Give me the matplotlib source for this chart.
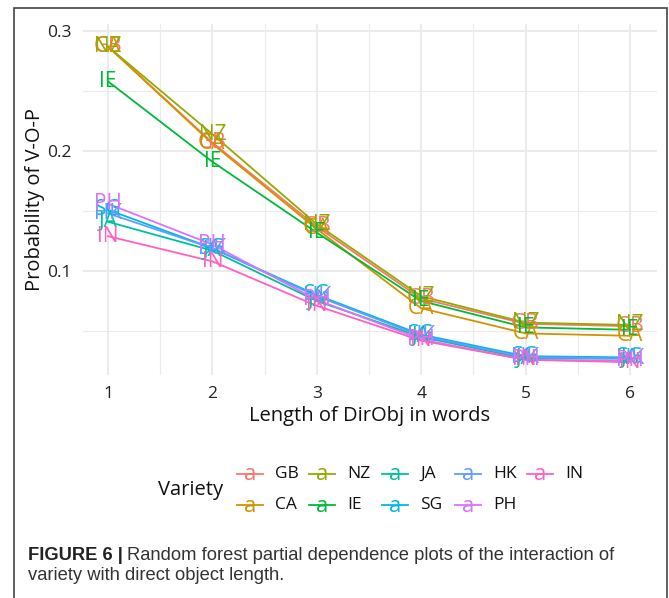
import numpy as np
import matplotlib
matplotlib.use('Agg')
import matplotlib.pyplot as plt
from matplotlib.lines import Line2D
from matplotlib.patches import Rectangle

plt.rcParams['font.family'] = ['Open Sans', 'DejaVu Sans']

# partial dependence values
lengths = [1, 2, 3, 4, 5, 6]
varieties = ['GB', 'CA', 'NZ', 'IE', 'JA', 'SG', 'HK', 'PH', 'IN']
colors = ['#F8766D', '#D39200', '#93AA00', '#00BA38', '#00C19F',
          '#00B9E3', '#619CFF', '#DB72FB', '#FF61C3']
prob = {
    'GB': [0.287, 0.207, 0.137, 0.077, 0.056, 0.054],
    'CA': [0.287, 0.206, 0.135, 0.069, 0.048, 0.046],
    'NZ': [0.287, 0.214, 0.139, 0.079, 0.057, 0.055],
    'IE': [0.258, 0.191, 0.132, 0.075, 0.053, 0.051],
    'JA': [0.141, 0.117, 0.075, 0.045, 0.027, 0.027],
    'SG': [0.151, 0.119, 0.080, 0.047, 0.029, 0.028],
    'HK': [0.148, 0.119, 0.079, 0.046, 0.028, 0.027],
    'PH': [0.156, 0.122, 0.076, 0.043, 0.026, 0.025],
    'IN': [0.129, 0.108, 0.071, 0.042, 0.026, 0.024],
}
y_ticks = [0.1, 0.2, 0.3]

W, H = 669, 598
fig = plt.figure(figsize=(W / 100, H / 100), dpi=100)
ax = fig.add_axes([83 / W, 1 - 375 / H, (657 - 83) / W, (375 - 24) / H])

grid = '#EBEBEB'
for x in np.arange(1.5, 6.0, 1.0):
    ax.axvline(x, color=grid, lw=0.8, zorder=0)
for y in [0.05, 0.15, 0.25]:
    ax.axhline(y, color=grid, lw=0.8, zorder=0)
for x in lengths:
    ax.axvline(x, color=grid, lw=1.5, zorder=0)
for y in y_ticks:
    ax.axhline(y, color=grid, lw=1.5, zorder=0)

for v, c in zip(varieties, colors):
    ax.plot(lengths, prob[v], color=c, lw=1.3, zorder=2)
for v, c in zip(varieties, colors):
    for x, y in zip(lengths, prob[v]):
        ax.text(x, y, v, color=c, fontsize=15, ha='center', va='center', zorder=3)

ax.set_xlim(0.76, 6.26)
ax.set_ylim(0.3 - 344 / 1200, 0.3 + 7 / 1200)
ax.set_xticks(lengths)
ax.set_yticks(y_ticks)
ax.set_yticklabels(['0.1', '0.2', '0.3'])
ax.tick_params(length=0, labelsize=12.5, colors='#222222', pad=8)
for s in ax.spines.values():
    s.set_visible(False)
ax.set_xlabel('Length of DirObj in words', fontsize=14.5, color='#111111', labelpad=3)
ax.set_ylabel('Probability of V-O-P', fontsize=14.5, color='#111111', labelpad=2)

# legend, drawn by hand in the ggplot bottom layout
fig.text(191 / W, 1 - 490 / H, 'Variety', fontsize=14.5, ha='center', va='center', color='#111111')
col_x = [250, 322, 395, 468, 540]
row_y = [474, 505]
for i, (v, c) in enumerate(zip(varieties, colors)):
    kx = col_x[i // 2]
    ky = row_y[i % 2]
    fig.add_artist(Line2D([(kx - 13) / W, (kx + 13) / W], [1 - ky / H, 1 - ky / H],
                          color=c, lw=1.3, transform=fig.transFigure))
    fig.text(kx / W, 1 - (ky + 1) / H, 'a', color=c, fontsize=16, ha='center', va='center')
    fig.text((kx + 25) / W, 1 - ky / H, v, fontsize=12.5, ha='left', va='center', color='#111111')

# caption
cap_font = ['Liberation Sans Narrow', 'Liberation Sans', 'DejaVu Sans']
t = fig.text(28 / W, 1 - 555 / H, 'FIGURE 6 |', fontsize=13.2, fontweight='bold',
             family=cap_font, va='center', ha='left', color='#222222')
fig.canvas.draw()
bb = t.get_window_extent()
fig.text(bb.x1 / W / fig.dpi * 100 + 4 / W, 1 - 555 / H,
         'Random forest partial dependence plots of the interaction of',
         fontsize=13.2, family=cap_font, va='center', ha='left', color='#333333')
fig.text(28 / W, 1 - 576 / H, 'variety with direct object length.',
         fontsize=13.2, family=cap_font, va='center', ha='left', color='#333333')

# outer frame
fig.add_artist(Rectangle((14 / W, -0.05), (667 - 14) / W, 1 - 8 / H + 0.05,
                         transform=fig.transFigure, fill=False, ec='#444444', lw=1.2))

fig.savefig('out.png', dpi=100)
